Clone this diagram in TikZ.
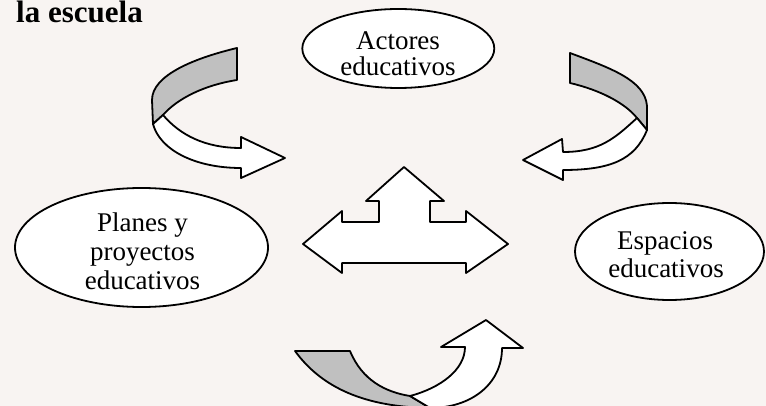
\documentclass[tikz,border=0pt]{standalone}
\usepackage{fontspec}
\setmainfont{Liberation Serif}
\usetikzlibrary{shapes.geometric}
\definecolor{bgpaper}{RGB}{248,244,242}
\definecolor{bandgray}{RGB}{192,192,192}
\tikzset{
  oval/.style={draw=black, line width=1.8pt, fill=white, ellipse, inner sep=0pt},
  lbl/.style={inner sep=0pt, anchor=base, font=\fontsize{27}{29}\selectfont},
  title/.style={inner sep=0pt, anchor=base west, font=\bfseries\fontsize{31}{33}\selectfont},
  shapeline/.style={draw=black, line width=1.8pt, line join=round},
  backband/.style={shapeline, fill=bandgray},
  frontband/.style={shapeline, fill=white}
}
\begin{document}
\begin{tikzpicture}[x=1pt, y=-1pt]
\useasboundingbox (0,0) rectangle (766,406);
\clip (0,0) rectangle (766,406);
\fill[bgpaper] (0,0) rectangle (766,406);

% title fragment
\node[title] (ttl) at (16,23) {la escuela};

% ellipses
\node[oval, minimum width=192pt, minimum height=79pt] (actores) at (398.3,48.5) {};
\node[oval, minimum width=253pt, minimum height=119pt] (planes) at (141.5,247.5) {};
\node[oval, minimum width=189pt, minimum height=97pt] (espacios) at (669.5,251.5) {};

\node[lbl] (act1) at (398,50) {Actores};
\node[lbl] (act2) at (398,76) {educativos};
\node[lbl] (pla1) at (142.5,231.7) {Planes y};
\node[lbl] (pla2) at (142.5,261) {proyectos};
\node[lbl] (pla3) at (142.5,289.3) {educativos};
\node[lbl] (esp1) at (665,250) {Espacios};
\node[lbl] (esp2) at (666,277.3) {educativos};

% central three-way arrow
\draw[frontband] (404,167) -- (444,201) -- (430,201) -- (430,222) -- (466,222)
  -- (466,211) -- (508,244) -- (466,273) -- (466,263) -- (342,263) -- (342,273)
  -- (303,244) -- (342,211) -- (342,222) -- (379,222) -- (379,201) -- (366,201) -- cycle;

% top-left curved arrow
\draw[backband] (237,48) -- (237,80) .. controls (205,85) and (178,98) .. (163,115)
  -- (153,124) -- (152,100) .. controls (152,75) and (195,58) .. (237,48) -- cycle;
\draw[frontband] (163,115) .. controls (180,135) and (205,148) .. (241,148)
  -- (241,137) -- (285,158) -- (241,178) -- (241,168)
  .. controls (195,168) and (160,150) .. (153,124) -- cycle;

% top-right curved arrow
\draw[backband] (570,53) -- (570,83) .. controls (600,90) and (625,103) .. (637,118)
  -- (647,130) -- (647,106) .. controls (645,80) and (610,68) .. (570,53) -- cycle;
\draw[frontband] (637,118) .. controls (615,138) and (600,152) .. (563,152)
  -- (562,139) -- (523,160) -- (563,180) -- (563,170)
  .. controls (610,170) and (635,160) .. (647,130) -- cycle;

% bottom curved arrow
\draw[backband] (295,351) -- (350,351) .. controls (362,380) and (385,392) .. (410,396)
  -- (430,408) .. controls (365,407) and (322,388) .. (295,351) -- cycle;
\draw[frontband] (410,396) .. controls (440,388) and (465,370) .. (465,347)
  -- (441,347) -- (486,320) -- (523,348) -- (502,348)
  .. controls (502,385) and (470,408) .. (430,408) -- cycle;
\end{tikzpicture}
\end{document}
